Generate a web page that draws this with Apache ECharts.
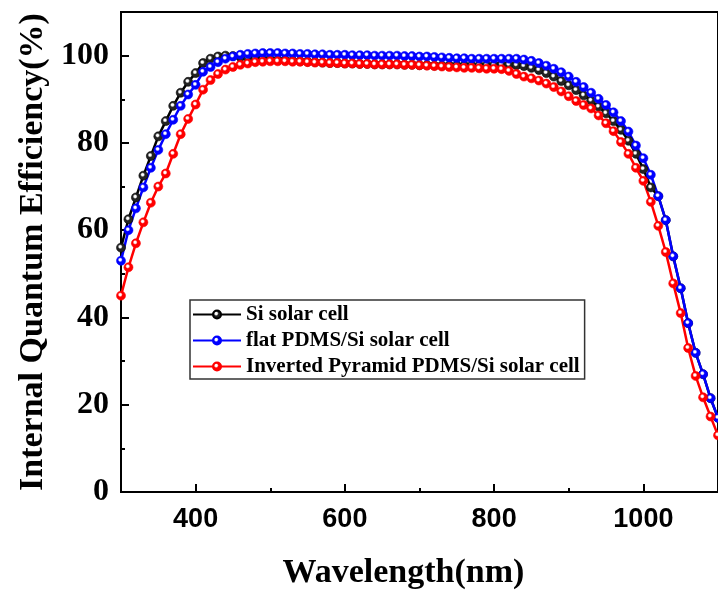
<!DOCTYPE html>
<html>
<head>
<meta charset="utf-8">
<script src="https://cdn.jsdelivr.net/npm/echarts@6/dist/echarts.min.js"></script>
<style>html,body{margin:0;padding:0;background:#fff;}#c{width:718px;height:595px;}</style>
</head>
<body>
<div id="c"></div>
<script>
const wavelengths = [300,310,320,330,340,350,360,370,380,390,400,410,420,430,440,450,460,470,480,490,500,510,520,530,540,550,560,570,580,590,600,610,620,630,640,650,660,670,680,690,700,710,720,730,740,750,760,770,780,790,800,810,820,830,840,850,860,870,880,890,900,910,920,930,940,950,960,970,980,990,1000,1010,1020,1030,1040,1050,1060,1070,1080,1090,1100];

const siCell = [56,62.5,67.5,72.5,77,81.5,85,88.5,91.5,94,96,98.3,99.3,99.8,100,99.9,99.7,99.5,99.3,99.2,99.1,99,98.9,98.8,98.7,98.6,98.5,98.4,98.3,98.3,98.2,98.2,98.1,98.1,98,98,98,98,97.9,97.9,97.8,97.8,97.7,97.7,97.7,97.7,97.7,97.7,97.7,97.7,97.8,97.9,97.9,97.8,97.6,97.2,96.7,96,95.2,94.2,93.2,92.1,90.9,89.7,88.3,86.8,85,83,80.5,77.5,74,69.8,67.8,62.3,54,46.7,38.7,31.9,27,21.5,17];

const flatCell = [53,60,65,69.8,74.3,78.4,82,85.3,88.5,91.1,93.3,96.3,97.4,98.5,99.3,99.8,100.2,100.4,100.5,100.6,100.6,100.6,100.5,100.5,100.4,100.4,100.3,100.3,100.2,100.2,100.2,100.1,100.1,100.1,100,100,100,100,99.9,99.9,99.8,99.8,99.7,99.6,99.5,99.4,99.4,99.3,99.3,99.3,99.3,99.3,99.3,99.3,99.1,98.8,98.3,97.7,97,96.2,95.2,94,92.8,91.5,90.1,88.7,87,85,82.6,79.4,76.5,72.7,67.8,62.3,54,46.7,38.7,31.9,27,21.5,17];

const pyramidCell = [45,51.5,57,61.8,66.3,70,73,77.5,82,85.5,88.8,92.2,94.4,95.8,96.8,97.4,97.9,98.2,98.5,98.6,98.7,98.7,98.7,98.6,98.6,98.5,98.4,98.4,98.3,98.3,98.2,98.2,98.1,98.1,98,98,98,98,97.9,97.9,97.8,97.7,97.6,97.5,97.4,97.3,97.2,97.2,97.1,97,97,96.9,96.5,95.8,95.2,94.8,94.3,93.6,92.8,91.8,90.7,89.6,88.7,87.9,86.3,84.5,82.7,80.2,77.5,74.3,71.3,66.5,61,55,47.8,41,33,26.6,21.7,17.3,13];

const seriesNames = ['Si solar cell','flat PDMS/Si solar cell','Inverted Pyramid PDMS/Si solar cell'];
const seriesColors = ['#000000','#0000ff','#ff0000'];
const xMajorTicks = [400,600,800,1000];
const xMinorTicks = [500,700,900];
const yMajorTicks = [0,20,40,60,80,100];
const yMinorTicks = [10,30,50,70,90];

function ball(c){
  return {type:'radial',x:0.42,y:0.4,r:0.6,colorStops:[
    {offset:0,color:'#ffffff'},{offset:0.18,color:'#ffffff'},{offset:0.42,color:c},{offset:1,color:c}]};
}
function pairs(ys){ return wavelengths.map((x,i)=>[x,ys[i]]); }

const allData = [siCell, flatCell, pyramidCell];
const series = allData.map((d,i)=>({
  name: seriesNames[i],
  type:'line',
  xAxisIndex:0, yAxisIndex:0,
  data: pairs(d),
  symbol:'circle',
  symbolSize:9,
  showSymbol:true,
  clip:false,
  lineStyle:{color:seriesColors[i],width:2.5},
  itemStyle:{color:ball(i===0?'#222222':seriesColors[i]),borderColor:seriesColors[i],borderWidth:0.6},
  emphasis:{disabled:true},
  animation:false
}));

const chart = echarts.init(document.getElementById('c'), null, {renderer:'canvas'});
chart.setOption({
  animation:false,
  backgroundColor:'#ffffff',
  grid:{left:121,top:12,right:-7,bottom:98,show:true,borderColor:'#000',borderWidth:2,containLabel:false},
  legend:{
    orient:'vertical',left:190,top:300,
    data:seriesNames,
    itemWidth:48,itemHeight:10,itemGap:5,
    padding:[4,5,2,2],
    borderColor:'#333',borderWidth:1.5,
    textStyle:{fontFamily:'Liberation Serif',fontWeight:'bold',fontSize:21,color:'#000'}
  },
  xAxis:[{
    type:'value',min:300,max:1100,
    name:'Wavelength(nm)',nameLocation:'middle',nameGap:64,
    nameTextStyle:{fontFamily:'Liberation Serif',fontWeight:'bold',fontSize:34,color:'#000',padding:[0,32,0,0]},
    axisLine:{show:true,lineStyle:{color:'#000',width:2}},
    axisTick:{show:true,inside:true,length:8,lineStyle:{color:'#000',width:2},customValues:xMajorTicks},
    axisLabel:{show:true,margin:14,customValues:xMajorTicks,formatter:v=>String(v),fontFamily:'Liberation Sans',fontWeight:'bold',fontSize:27,color:'#000'},
    splitLine:{show:false}
  },{
    type:'value',min:300,max:1100,position:'bottom',
    axisLine:{show:false},
    axisTick:{show:true,inside:true,length:4,lineStyle:{color:'#000',width:2},customValues:xMinorTicks},
    axisLabel:{show:false},
    splitLine:{show:false}
  }],
  yAxis:[{
    type:'value',min:0,max:110,
    name:'Internal Quantum Efficiency(%)',nameLocation:'middle',nameGap:70,
    nameTextStyle:{fontFamily:'Liberation Serif',fontWeight:'bold',fontSize:34,color:'#000'},
    axisLine:{show:true,lineStyle:{color:'#000',width:2}},
    axisTick:{show:true,inside:true,length:8,lineStyle:{color:'#000',width:2},customValues:yMajorTicks},
    axisLabel:{show:true,margin:12,customValues:yMajorTicks,fontFamily:'Liberation Serif',fontWeight:'bold',fontSize:32,color:'#000'},
    splitLine:{show:false}
  },{
    type:'value',min:0,max:110,position:'left',
    axisLine:{show:false},
    axisTick:{show:true,inside:true,length:4,lineStyle:{color:'#000',width:2},customValues:yMinorTicks},
    axisLabel:{show:false},
    splitLine:{show:false}
  }],
  series: series
});
</script>
</body>
</html>
